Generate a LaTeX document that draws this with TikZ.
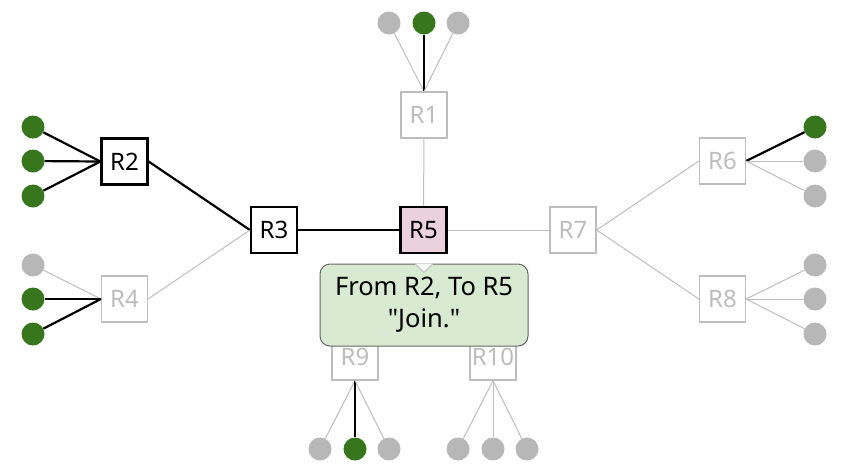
\documentclass[tikz,border=0pt]{standalone}
\usepackage{fontspec}
\setmainfont{Noto Sans}
\definecolor{leafgreen}{HTML}{38761D}
\definecolor{leafgray}{HTML}{B7B7B7}
\definecolor{offgray}{HTML}{BDBDBD}
\definecolor{hostpink}{HTML}{EAD1DC}
\definecolor{notegreen}{HTML}{D9EAD3}
\definecolor{noteedge}{HTML}{666666}
\tikzset{
  router/.style={draw=black,line width=2.2pt,fill=white,minimum size=46pt,inner sep=0pt,font=\fontsize{24}{28}\selectfont},
  idle/.style={router,draw=offgray,line width=1.2pt,text=offgray},
  member/.style={circle,fill=leafgreen,minimum size=23pt,inner sep=0pt},
  quiet/.style={member,fill=leafgray},
  live/.style={line width=2.2pt,black},
  dead/.style={line width=1pt,offgray},
  note/.style={draw=noteedge,line width=1pt,fill=notegreen,rounded corners=10pt,minimum width=208pt,minimum height=82pt,align=center,font=\fontsize{25.5}{32}\selectfont},
}
\begin{document}
\begin{tikzpicture}[x=1pt,y=-1pt]
	\useasboundingbox (0,0) rectangle (842,467);
	% routers
	\node[idle] (R1) at (424,115) {R1};
	\node[router] (R2) at (124.5,161.5) {R2};
	\node[router] (R3) at (274,230) {R3};
	\node[idle] (R4) at (124.5,299) {R4};
	\node[router,fill=hostpink] (R5) at (423.5,230) {R5};
	\node[idle] (R6) at (722.5,161) {R6};
	\node[idle] (R7) at (573,230) {R7};
	\node[idle] (R8) at (722.5,299) {R8};
	\node[idle] (R9) at (355,357) {R9};
	\node[idle] (R10) at (493,357) {R10};
	
	% hosts
	\node[quiet] (h1a) at (389,23) {};
	\node[member] (h1b) at (424,23) {};
	\node[quiet] (h1c) at (458,23) {};
	\foreach \y [count=\i] in {127,161,196}
		\node[member] (h2\i) at (33,\y) {};
	\node[quiet] (h41) at (33,265) {};
	\node[member] (h42) at (33,299) {};
	\node[member] (h43) at (33,334) {};
	\node[member] (h61) at (815,127) {};
	\node[quiet] (h62) at (815,161) {};
	\node[quiet] (h63) at (815,196) {};
	\foreach \y [count=\i] in {265,299,334}
		\node[quiet] (h8\i) at (815,\y) {};
	\node[quiet] (h91) at (320,449) {};
	\node[member] (h92) at (355,449) {};
	\node[quiet] (h93) at (389,449) {};
	\foreach \x [count=\i] in {458,493,527}
		\node[quiet] (h10\i) at (\x,449) {};
	
	% links
	\draw[dead] (R1.north) -- (h1a);
	\draw[live] (R1.north) -- (h1b);
	\draw[dead] (R1.north) -- (h1c);
	\draw[dead] (R1) -- (R5);
	\foreach \i in {1,2,3}
		\draw[live] (R2.west) -- (h2\i);
	\draw[live] (R2.east) -- (R3.west);
	\draw[dead] (R4.east) -- (R3.west);
	\draw[live] (R3) -- (R5);
	\draw[dead] (R4.west) -- (h41);
	\draw[live] (R4.west) -- (h42);
	\draw[live] (R4.west) -- (h43);
	\draw[dead] (R5) -- (R7);
	\draw[dead] (R7.east) -- (R6.west);
	\draw[dead] (R7.east) -- (R8.west);
	\draw[live] (R6.east) -- (h61);
	\draw[dead] (R6.east) -- (h62);
	\draw[dead] (R6.east) -- (h63);
	\foreach \i in {1,2,3}
		\draw[dead] (R8.east) -- (h8\i);
	\draw[dead] (R9.south) -- (h91);
	\draw[live] (R9.south) -- (h92);
	\draw[dead] (R9.south) -- (h93);
	\foreach \i in {1,2,3}
		\draw[dead] (R10.south) -- (h10\i);
	
	% message
	\node[note] (msg) at (424,305) {From R2, To R5\\\textquotedbl Join.\textquotedbl};
	\draw[dead,fill=white] ([xshift=-9pt]msg.north) -- ([yshift=-9pt]msg.north) -- ([xshift=9pt]msg.north);
\end{tikzpicture}
\end{document}
